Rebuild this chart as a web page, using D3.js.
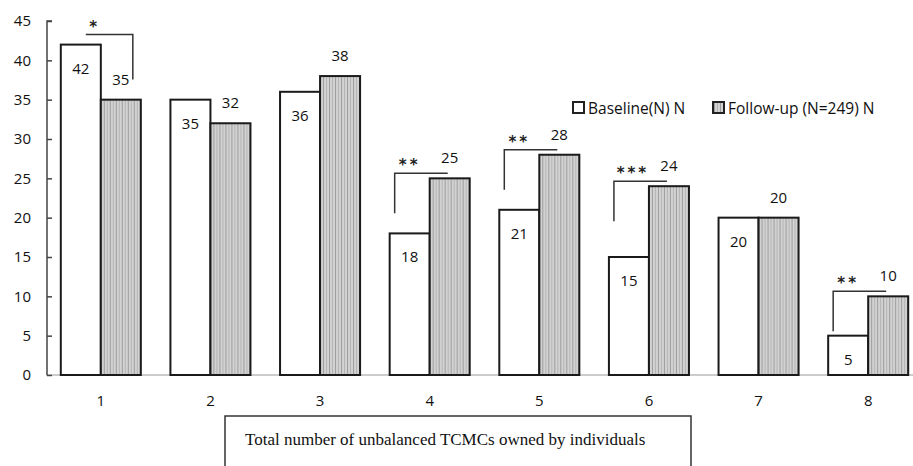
<!DOCTYPE html>
<html>
<head>
  <meta charset="utf-8">
  <title>TCMC chart</title>
  <style>
    body { margin: 0; background: #fff; overflow: hidden; }
    svg { display: block; }
    .lbl { font-family: "Open Sans", sans-serif; font-size: 15px; fill: #111; text-anchor: middle; dominant-baseline: central; }
    .tick text { font-family: "Open Sans", sans-serif; font-size: 15px; fill: #111; }
  </style>
</head>
<body>
<svg id="chart" width="913" height="466"></svg>
<script src="https://cdn.jsdelivr.net/npm/d3@7/dist/d3.min.js"></script>
<script>
// data
var categories = ["1", "2", "3", "4", "5", "6", "7", "8"];
var baseline   = [42, 35, 36, 18, 21, 15, 20, 5];
var followup   = [35, 32, 38, 25, 28, 24, 20, 10];
var signif     = ["*", "", "", "**", "**", "***", "", "**"];
var yTicks     = [0, 5, 10, 15, 20, 25, 30, 35, 40, 45];
var seriesNames = ["Baseline(N) N", "Follow-up (N=249) N"];
var xTitle = "Total number of unbalanced TCMCs owned by individuals";

var svg = d3.select("#chart");

// hatched fill for the follow-up bars
var pat = svg.append("defs").append("pattern")
    .attr("id", "stripes").attr("patternUnits", "userSpaceOnUse")
    .attr("width", 6).attr("height", 4);
pat.append("rect").attr("width", 6).attr("height", 4).attr("fill", "#d2d2d2");
pat.append("rect").attr("x", 1).attr("width", 1).attr("height", 4).attr("fill", "#9c9c9c");
pat.append("rect").attr("x", 4).attr("width", 1).attr("height", 4).attr("fill", "#b4b4b4");

var y = d3.scaleLinear().domain([0, 45]).range([375, 21]);
var x0 = d3.scaleBand().domain(categories).range([46, 923])
    .paddingInner(0.27).paddingOuter(0.135);
var x1 = d3.scaleBand().domain([0, 1]).range([0, x0.bandwidth()]);

// x axis line (light)
svg.append("line").attr("x1", 46).attr("x2", 913)
    .attr("y1", y(0)).attr("y2", y(0))
    .attr("stroke", "#bbb").attr("stroke-width", 1.5);

// y axis, ticks pointing inward
var yAxis = d3.axisRight(y).tickValues(yTicks).tickSize(5).tickPadding(-22);
var gy = svg.append("g").attr("transform", "translate(47,0)").call(yAxis);
gy.select(".domain").attr("stroke", "#444").attr("stroke-width", 1.5).attr("d", "M5," + y(45) + "H0V" + y(0));
gy.selectAll(".tick line").attr("stroke", "#444").attr("stroke-width", 1.5);
gy.selectAll(".tick text").attr("text-anchor", "end").attr("x", -16);

// x category labels
var xAxis = d3.axisBottom(x0).tickSize(0).tickPadding(20);
var gx = svg.append("g").attr("transform", "translate(0," + y(0) + ")").call(xAxis);
gx.select(".domain").remove();

var rows = categories.map(function(c, i) {
  return {cat: c, vals: [baseline[i], followup[i]], sig: signif[i]};
});

var groups = svg.selectAll("g.grp").data(rows).enter().append("g")
    .attr("class", "grp")
    .attr("transform", function(d) { return "translate(" + x0(d.cat) + ",0)"; });

groups.selectAll("rect").data(function(d) { return d.vals; }).enter().append("rect")
    .attr("x", function(d, i) { return x1(i); })
    .attr("y", function(d) { return y(d); })
    .attr("width", x1.bandwidth())
    .attr("height", function(d) { return y(0) - y(d); })
    .attr("fill", function(d, i) { return i === 0 ? "#fff" : "url(#stripes)"; })
    .attr("stroke", "#1a1a1a").attr("stroke-width", 2);

// value labels: baseline inside the bar, follow-up above it
groups.append("text").attr("class", "lbl")
    .attr("x", x1(0) + x1.bandwidth() / 2)
    .attr("y", function(d) { return y(d.vals[0]) + 23; })
    .text(function(d) { return d.vals[0]; });
groups.append("text").attr("class", "lbl")
    .attr("x", x1(1) + x1.bandwidth() / 2)
    .attr("y", function(d) { return y(d.vals[1]) - 21; })
    .text(function(d) { return d.vals[1]; });

// significance brackets
groups.filter(function(d) { return d.sig; }).each(function(d) {
  var g = d3.select(this), path, sx, by;
  if (d.vals[0] > d.vals[1]) {
    by = y(d.vals[0]) - 10;
    var l = x1(0) + 25, r = x1(1) + 32;
    path = "M" + l + "," + by + "H" + r + "V" + (by + 45);
    sx = l + 9;
  } else {
    by = y(d.vals[1]) - 5;
    var l2 = x1(0) + 5, r2 = x1(1) + 18;
    path = "M" + l2 + "," + (by + 40) + "V" + by + "H" + r2;
    sx = l2 + 15 + (d.sig.length - 2) * 4;
  }
  g.append("path").attr("d", path).attr("fill", "none")
      .attr("stroke", "#333").attr("stroke-width", 1.5);
  g.append("text").attr("x", sx).attr("y", by - 3)
      .attr("text-anchor", "middle")
      .style("font-family", "DejaVu Sans, sans-serif").style("font-size", "15px")
      .style("font-weight", "bold").style("letter-spacing", "3px")
      .attr("fill", "#222").text(d.sig);
});

// legend
var legX = [573, 713];
var leg = svg.selectAll("g.leg").data(seriesNames).enter().append("g")
    .attr("class", "leg")
    .attr("transform", function(d, i) { return "translate(" + legX[i] + ",102)"; });
leg.append("rect").attr("width", 11).attr("height", 11)
    .attr("fill", function(d, i) { return i === 0 ? "#fff" : "url(#stripes)"; })
    .attr("stroke", "#222").attr("stroke-width", 2);
leg.append("text").attr("x", 15).attr("y", 6)
    .attr("dominant-baseline", "central")
    .style("font-family", "Open Sans, sans-serif").style("font-size", "15.5px")
    .attr("fill", "#111").text(function(d) { return d; });

// x axis title box
svg.append("rect").attr("x", 225).attr("y", 416).attr("width", 466).attr("height", 70)
    .attr("fill", "#fff").attr("stroke", "#333").attr("stroke-width", 1.5);
svg.append("text").attr("x", 245).attr("y", 445)
    .style("font-family", "Liberation Serif, serif").style("font-size", "17px")
    .attr("fill", "#111").text(xTitle);
</script>
</body>
</html>
